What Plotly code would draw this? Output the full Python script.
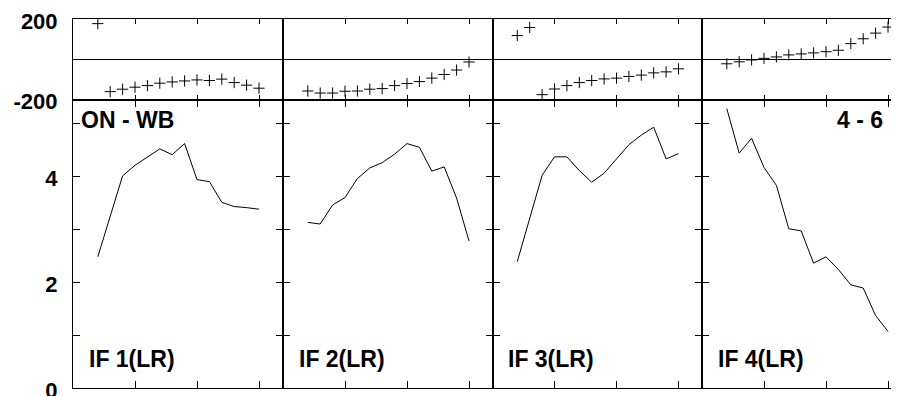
import plotly.graph_objects as go

# ---------------- data ----------------
x_points = [2, 3, 4, 5, 6, 7, 8, 9, 10, 11, 12, 13, 14, 15]

top_if1 = [177, -160, -148, -138, -130, -118, -112, -107, -102, -105, -98, -115, -128, -143]
top_if2 = [-157, -167, -167, -158, -157, -148, -145, -130, -120, -110, -93, -75, -53, -13]
top_if3 = [118, 158, -175, -147, -130, -115, -105, -97, -93, -85, -78, -67, -62, -47]
top_if4 = [-22, -12, -3, 5, 12, 22, 27, 32, 38, 45, 78, 102, 130, 160]

bot_if1 = [2.48, 3.25, 4.01, 4.21, 4.37, 4.52, 4.41, 4.62, 3.94, 3.90, 3.51, 3.43, 3.41, 3.38]
bot_if2 = [3.13, 3.10, 3.46, 3.60, 3.96, 4.16, 4.26, 4.42, 4.62, 4.55, 4.10, 4.18, 3.59, 2.78]
bot_if3 = [2.39, 3.21, 4.02, 4.37, 4.37, 4.11, 3.89, 4.06, 4.33, 4.60, 4.78, 4.93, 4.33, 4.43]
bot_if4 = [5.28, 4.44, 4.72, 4.17, 3.83, 3.01, 2.97, 2.36, 2.48, 2.24, 1.95, 1.89, 1.37, 1.07]

panel_labels = ["IF 1(LR)", "IF 2(LR)", "IF 3(LR)", "IF 4(LR)"]
left_label = "ON - WB"
right_label = "4 - 6"

top_tickvals = [-200, 0, 200]
top_ticktext = ["-200", "", "200"]
bot_tickvals = [0, 1, 2, 3, 4, 5]
bot_ticktext = ["0", "", "2", "", "4", ""]
x_tickvals = [5, 10, 15]

# ---------------- layout geometry (screen pixels) ----------------
OFF = 8                      # page body margin offset
S_LEFT, S_TOP, S_BOTTOM = 73, 19, 388
edges = [73, 283, 492.5, 702, 912]
split_px = 99.7
px_per_x = 12.4

W = edges[-1] - OFF + 8      # figure width (right part falls outside the window)
H = 396
ML = S_LEFT - OFF
MT = S_TOP - OFF
MB = H - (S_BOTTOM - OFF)
MR = W - (edges[-1] - OFF)
PW = W - ML - MR
PH = H - MT - MB


def fx(p):
    return (p - S_LEFT) / PW


def fy(p):
    return (S_BOTTOM - p) / PH


split = fy(split_px)
top_max, top_min = 200, -200
bot_max = (S_BOTTOM - split_px) / 52.9

tops = [top_if1, top_if2, top_if3, top_if4]
bots = [bot_if1, bot_if2, bot_if3, bot_if4]

fig = go.Figure()
font_fam = "Liberation Sans, Arial, Helvetica, sans-serif"
layout = dict(
    template="none",
    width=W, height=H,
    margin=dict(l=ML, r=MR, t=MT, b=MB, pad=0, autoexpand=False),
    paper_bgcolor="white", plot_bgcolor="white",
    showlegend=False,
    font=dict(family=font_fam, color="black"),
)

tick_font = dict(family=font_fam, size=22, color="black", weight="bold")

for i in range(4):
    nt = 2 * i + 1
    nb = 2 * i + 2
    dom = [fx(edges[i]), fx(edges[i + 1])]
    xr = [0, (edges[i + 1] - edges[i]) / px_per_x]
    fig.add_trace(go.Scatter(
        x=x_points, y=tops[i], mode="markers",
        marker=dict(symbol="cross-thin", size=8, color="black",
                    line=dict(width=1, color="black")),
        xaxis="x%d" % nt, yaxis="y%d" % nt, hoverinfo="skip"))
    fig.add_trace(go.Scatter(
        x=x_points, y=bots[i], mode="lines",
        line=dict(color="black", width=1),
        xaxis="x%d" % nb, yaxis="y%d" % nb, hoverinfo="skip"))

    for n, xlen in ((nt, 4.5), (nb, 7.5)):
        layout["xaxis%d" % n] = dict(
            domain=dom, range=xr, anchor="y%d" % n, automargin=False,
            showgrid=False, zeroline=False,
            showline=True, linecolor="black", linewidth=1, mirror="allticks",
            ticks="inside", ticklen=xlen, tickwidth=1, tickcolor="black",
            tickvals=x_tickvals, showticklabels=False,
        )
    layout["yaxis%d" % nt] = dict(
        domain=[split, 1], range=[top_min, top_max], anchor="x%d" % nt,
        automargin=False,
        showgrid=False, zeroline=True, zerolinecolor="black", zerolinewidth=1,
        showline=True, linecolor="black", linewidth=1, mirror="allticks",
        ticks="inside", ticklen=7, tickwidth=1, tickcolor="black",
        tickvals=top_tickvals, ticktext=top_ticktext,
        showticklabels=(i == 0), tickfont=tick_font,
        ticklabeloverflow="allow", ticklabelshift=2, ticklabelstandoff=10,
    )
    layout["yaxis%d" % nb] = dict(
        domain=[0, split], range=[0, bot_max], anchor="x%d" % nb,
        automargin=False,
        showgrid=False, zeroline=False,
        showline=True, linecolor="black", linewidth=1, mirror="allticks",
        ticks="inside", ticklen=7, tickwidth=1, tickcolor="black",
        tickvals=bot_tickvals, ticktext=bot_ticktext,
        showticklabels=(i == 0), tickfont=tick_font,
        ticklabeloverflow="allow", ticklabelshift=2, ticklabelstandoff=10,
    )

ann_font = dict(family=font_fam, size=23, color="black", weight="bold")
annotations = []
for i, lab in enumerate(panel_labels):
    annotations.append(dict(
        text=lab, xref="paper", yref="paper",
        x=fx(edges[i] + 13.5), y=fy(359), xanchor="left", yanchor="middle",
        showarrow=False, font=ann_font))
annotations.append(dict(
    text=left_label, xref="paper", yref="paper",
    x=fx(78.5), y=fy(119.5), xanchor="left", yanchor="middle",
    showarrow=False, font=ann_font))
annotations.append(dict(
    text=right_label, xref="paper", yref="paper",
    x=fx(885), y=fy(120.3), xanchor="right", yanchor="middle",
    showarrow=False, font=ann_font))
layout["annotations"] = annotations

fig.update_layout(**layout)
fig.write_html("out.html")
